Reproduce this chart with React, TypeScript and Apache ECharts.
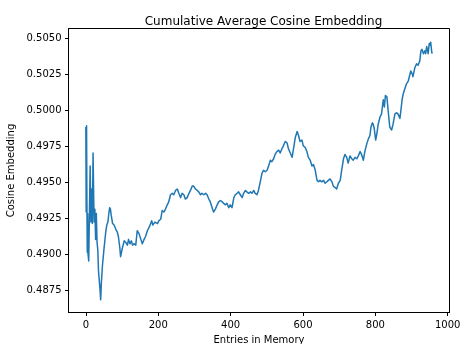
import React, { useEffect, useRef } from "react";
import * as echarts from "echarts";

const entries: number[] = [
  0, 1, 2, 3, 4, 5, 6, 8, 10, 12, 14, 16, 18, 20, 22, 23, 25, 27, 29, 31, 33, 35, 37, 39, 41, 43, 46, 50, 55, 58,
  61, 64, 66, 68, 70, 74, 78, 83, 87, 90, 94, 96, 101, 106, 110, 115, 118, 122, 126, 129, 133, 138, 142, 147, 152, 156,
  161, 165, 170, 176, 182, 185, 191, 198, 202, 207, 211, 216, 220, 225, 229, 234, 239, 243, 248, 253, 257, 262, 266, 271,
  275, 280, 285, 289, 294, 298, 303, 308, 312, 317, 321, 326, 331, 335, 340, 344, 349, 353, 358, 363, 367, 372, 377, 381,
  386, 390, 395, 399, 404, 409, 413, 418, 422, 427, 432, 436, 441, 445, 450, 455, 459, 464, 468, 473, 477, 482, 487, 491,
  496, 501, 505, 510, 514, 519, 523, 528, 533, 537, 542, 546, 551, 556, 560, 565, 570, 574, 579, 584, 588, 592, 597, 601,
  606, 611, 615, 620, 625, 629, 634, 639, 643, 647, 652, 657, 661, 666, 670, 675, 680, 684, 689, 693, 698, 703, 707, 712,
  716, 721, 725, 730, 735, 739, 744, 749, 753, 758, 762, 767, 771, 776, 781, 785, 788, 792, 794, 797, 801, 804, 808, 813,
  817, 822, 825, 828, 832, 836, 840, 845, 849, 854, 859, 863, 868, 870, 874, 877, 882, 886, 891, 895, 898, 902, 904, 909,
  914, 918, 923, 926, 929, 933, 937, 939, 942, 946, 949, 951, 953, 956, 957,
];

const cosine: number[] = [
  0.4988, 0.4929, 0.4989, 0.4935, 0.4901, 0.4928, 0.49, 0.4895, 0.493, 0.4961, 0.4922, 0.4945, 0.4921, 0.497, 0.4935,
  0.4922, 0.4931, 0.491, 0.4928, 0.4908, 0.4903, 0.4888, 0.4882, 0.4876, 0.4868, 0.488, 0.4892, 0.4903, 0.4915, 0.492,
  0.4922, 0.4929, 0.4932, 0.4931, 0.4927, 0.4921, 0.492, 0.4917, 0.4915, 0.4912, 0.4904, 0.4898, 0.4904, 0.4909, 0.4908,
  0.4906, 0.491, 0.4907, 0.4909, 0.4906, 0.4907, 0.4906, 0.4916, 0.4914, 0.491, 0.4907, 0.491, 0.4912, 0.4916, 0.4919,
  0.4923, 0.492, 0.4922, 0.4921, 0.4923, 0.4924, 0.493, 0.4929, 0.4931, 0.4934, 0.4936, 0.4941, 0.4942, 0.4941, 0.4944,
  0.4945, 0.4942, 0.4939, 0.4942, 0.4941, 0.4938, 0.4939, 0.4942, 0.4944, 0.4947, 0.4947, 0.4945, 0.4944, 0.4943, 0.4941,
  0.4942, 0.4941, 0.4942, 0.4941, 0.4938, 0.4936, 0.4932, 0.4929, 0.4931, 0.4934, 0.4936, 0.4937, 0.4936, 0.4935, 0.4934,
  0.4935, 0.4932, 0.4934, 0.4932, 0.4939, 0.4941, 0.4942, 0.4943, 0.4941, 0.4939, 0.4942, 0.4944, 0.4943, 0.4942, 0.4943,
  0.4942, 0.4944, 0.4942, 0.4941, 0.4944, 0.495, 0.4956, 0.4958, 0.4957, 0.4958, 0.4961, 0.4965, 0.4964, 0.4966, 0.4969,
  0.4971, 0.4972, 0.497, 0.4973, 0.4975, 0.4978, 0.4977, 0.4973, 0.497, 0.4967, 0.4973, 0.4981, 0.4985, 0.4982, 0.4978,
  0.4979, 0.4975, 0.4974, 0.4971, 0.4967, 0.4965, 0.4961, 0.4962, 0.4958, 0.4951, 0.495, 0.4951, 0.495, 0.4951, 0.4949,
  0.495, 0.4951, 0.4952, 0.495, 0.4947, 0.4946, 0.4945, 0.4949, 0.4951, 0.4958, 0.4966, 0.4969, 0.4967, 0.4963, 0.4968,
  0.4966, 0.4965, 0.4967, 0.4966, 0.4968, 0.4971, 0.4969, 0.4965, 0.4971, 0.4976, 0.498, 0.4982, 0.4988, 0.4991, 0.499,
  0.4987, 0.4979, 0.4983, 0.499, 0.4995, 0.4997, 0.5007, 0.5002, 0.501, 0.5009, 0.4998, 0.4988, 0.4986, 0.499, 0.4997,
  0.4998, 0.4997, 0.4994, 0.4998, 0.5007, 0.5011, 0.5015, 0.5018, 0.502, 0.5024, 0.5027, 0.5025, 0.5023, 0.5029, 0.5032,
  0.5031, 0.5034, 0.5041, 0.5042, 0.5039, 0.5041, 0.5039, 0.5044, 0.5039, 0.5046, 0.5045, 0.5047, 0.504, 0.5039,
];

const xTicks: number[] = [0, 200, 400, 600, 800, 1000];
const yTicks: number[] = [0.4875, 0.49, 0.4925, 0.495, 0.4975, 0.5, 0.5025, 0.505];

const FONT = "DejaVu Sans";

export default function App() {
  const ref = useRef<HTMLDivElement>(null);
  useEffect(() => {
    if (!ref.current) return;
    const chart = echarts.init(ref.current, null, { renderer: "svg" });
    const data = entries.map((x, i) => [x, cosine[i]]);
    chart.setOption({
      animation: false,
      title: {
        text: "Cumulative Average Cosine Embedding",
        left: 258.5,
        top: 10,
        textAlign: "center",
        textStyle: { fontFamily: FONT, fontSize: 12, fontWeight: "normal", color: "#000" },
      },
      grid: {
        left: 68.5,
        right: 10.5,
        top: 28.5,
        bottom: 31.5,
        containLabel: false,
        outerBoundsMode: "none",
        show: true,
        borderColor: "#000",
        borderWidth: 1,
      },
      xAxis: {
        type: "value",
        min: -47.9,
        max: 1005,
        name: "Entries in Memory",
        nameLocation: "middle",
        nameGap: 18,
        nameTextStyle: { fontFamily: FONT, fontSize: 10, color: "#000" },
        splitLine: { show: false },
        axisLine: { show: true, onZero: false, lineStyle: { color: "#000", width: 1 } },
        axisTick: {
          show: true,
          length: 3.5,
          customValues: xTicks,
          lineStyle: { color: "#000", width: 1 },
        },
        axisLabel: {
          customValues: xTicks,
          margin: 7,
          fontFamily: FONT,
          fontSize: 10,
          color: "#000",
          formatter: (v: number) => String(Math.round(v)),
        },
      },
      yAxis: {
        type: "value",
        min: 0.48592,
        max: 0.50565,
        name: "Cosine Embedding",
        nameLocation: "middle",
        nameGap: 49,
        nameTextStyle: { fontFamily: FONT, fontSize: 10, color: "#000" },
        splitLine: { show: false },
        axisLine: { show: true, onZero: false, lineStyle: { color: "#000", width: 1 } },
        axisTick: {
          show: true,
          length: 3.5,
          customValues: yTicks,
          lineStyle: { color: "#000", width: 1 },
        },
        axisLabel: {
          customValues: yTicks,
          margin: 7,
          fontFamily: FONT,
          fontSize: 10,
          color: "#000",
          formatter: (v: number) => v.toFixed(4),
        },
      },
      series: [
        {
          type: "line",
          data,
          showSymbol: false,
          symbol: "none",
          lineStyle: { color: "#1f77b4", width: 1.5, join: "round" },
          itemStyle: { color: "#1f77b4" },
        },
      ],
    });
    return () => chart.dispose();
  }, []);
  return <div ref={ref} style={{ position: "fixed", left: 0, top: 0, width: 460, height: 344 }} />;
}
